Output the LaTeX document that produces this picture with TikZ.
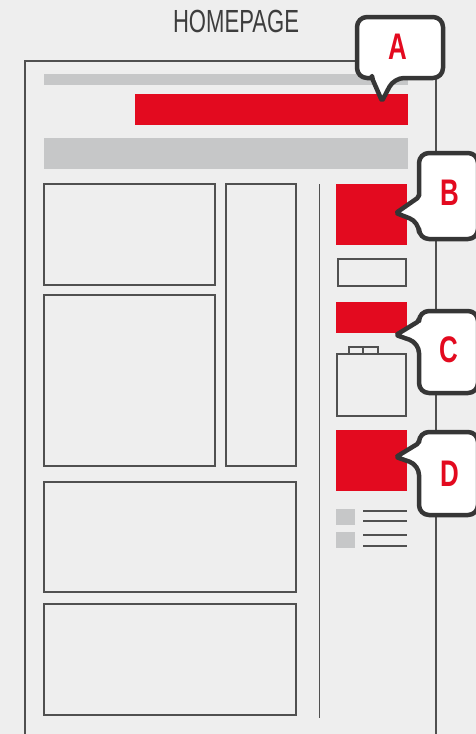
\documentclass[tikz,border=0pt]{standalone}
\usepackage{fontspec}
\setmainfont{Liberation Sans}
\definecolor{bg}{HTML}{EEEEEE}
\definecolor{wire}{HTML}{505050}
\definecolor{barg}{HTML}{C6C7C8}
\definecolor{hred}{HTML}{E30A1F}
\definecolor{calloutc}{HTML}{363636}
\definecolor{titlec}{HTML}{3D3D3D}
\tikzset{
  wirebox/.style={draw=wire, line width=1.3pt},
  graybar/.style={fill=barg},
  redbar/.style={fill=hred},
  callout/.style={draw=calloutc, fill=white, line width=4.5pt, line join=round},
  letter/.style={text=hred, font=\fontsize{37}{37}\selectfont\bfseries, xscale=0.7, inner sep=0pt},
  listline/.style={draw=wire, line width=1.6pt},
}
\begin{document}
\begin{tikzpicture}[x=1pt, y=-1pt]
\useasboundingbox (0,0) rectangle (476,734);
\clip (0,0) rectangle (476,734);
\fill[bg] (0,0) rectangle (476,734);

% title
\node[text=titlec, font=\fontsize{32}{32}\selectfont, xscale=0.69, inner sep=0pt, anchor=base] (title) at (236,32) {HOMEPAGE};

% outer frame
\draw[wirebox] (25,740) -- (25,61) -- (436,61) -- (436,740);

% header bars
\fill[graybar] (44,74) rectangle (408,85);
\fill[redbar] (135,94) rectangle (408,125);
\fill[graybar] (44,138) rectangle (408,169);

% left content boxes
\draw[wirebox] (44,184) rectangle (215,285);
\draw[wirebox] (44,295) rectangle (215,466);
\draw[wirebox] (226,184) rectangle (296,466);
\draw[wirebox] (44,482) rectangle (296,592);
\draw[wirebox] (44,604) rectangle (296,715);

% separator
\draw[wirebox] (319.5,184) -- (319.5,718);

% right column
\fill[redbar] (336,184) rectangle (407,245);
\draw[wirebox] (338,259) rectangle (406,286);
\fill[redbar] (336,302) rectangle (407,333);
\draw[wirebox] (337,354) rectangle (406,416);
\draw[wirebox] (349,354) -- (349,347) -- (378,347) -- (378,354);
\draw[wirebox] (363,347) -- (363,354);
\fill[redbar] (336,430) rectangle (407,491);
\fill[graybar] (336,509) rectangle (355,525);
\fill[graybar] (336,532) rectangle (355,548);
\draw[listline] (363,511) -- (407,511);
\draw[listline] (363,521) -- (407,521);
\draw[listline] (363,535) -- (407,535);
\draw[listline] (363,546) -- (407,546);

% callout A
\draw[callout] (372,78) [rounded corners=10] -| (357,17) -| (443,78) -- (394,78) [rounded corners=2] -- (382,101) -- (372,78) -- cycle;
\node[letter] (la) at (398,47) {A};

% callout B
\draw[callout] (419,197) [rounded corners=10] |- (478,153) |- (419,239) -- (419,222) [rounded corners=2] -- (396,213) -- (419,197) -- cycle;
\node[letter] (lb) at (449.5,193) {B};

% callout C
\draw[callout] (419,321) [rounded corners=10] |- (478,311) |- (419,393) -- (419,343) [rounded corners=2] -- (396,335) -- (419,321) -- cycle;
\node[letter] (lc) at (449,350) {C};

% callout D
\draw[callout] (419,443) [rounded corners=10] |- (478,432) |- (419,515) -- (419,465) [rounded corners=2] -- (396,457) -- (419,443) -- cycle;
\node[letter] (ld) at (449.5,474) {D};
\end{tikzpicture}
\end{document}
